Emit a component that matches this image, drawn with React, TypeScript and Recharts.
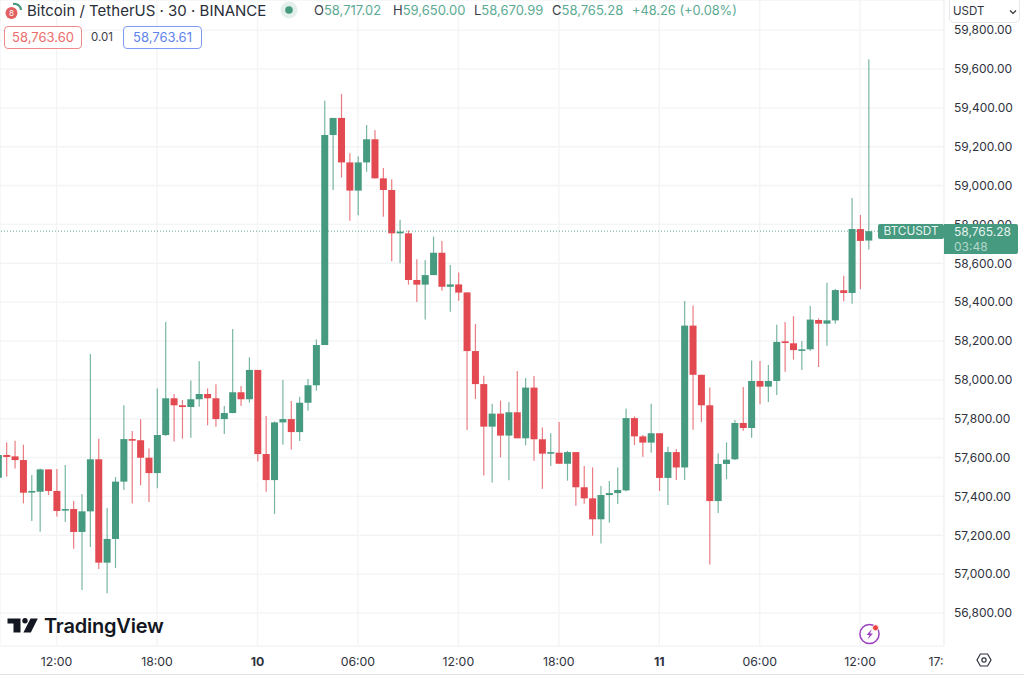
import React from "react";
import { ComposedChart, Bar, XAxis, YAxis, CartesianGrid, ReferenceLine } from "recharts";

const opens = [57496,57613,57606,57587,57424,57424,57539,57428,57327,57335,57217,57323,57591,57059,57181,57476,57695,57689,57599,57520,57716,57905,57869,57860,57900,57927,57905,57798,57829,57936,57900,58051,57618,57484,57781,57798,57731,57882,57972,58179,59260,59348,59119,58974,59119,59238,59037,58977,58754,58754,58514,58490,58539,58654,58479,58491,58450,58148,57978,57759,57826,57713,57833,57699,57960,57694,57625,57625,57568,57628,57447,57390,57282,57407,57417,57431,57803,57709,57677,57725,57495,57628,57549,58279,58026,57869,57376,57567,57591,57778,57752,57994,57965,57994,58198,58188,58153,58157,58308,58289,58306,58461,58447,58776,58717];
const highs = [57655,57677,57687,57666,57510,57544,57539,57541,57562,57376,57412,58133,57697,57340,57500,57869,57737,57797,57647,57956,58298,57927,57896,57997,58095,57956,57977,57865,58262,57968,58116,58051,57814,57786,57999,57891,57913,58004,58208,59437,59348,59471,59166,59149,59312,59286,59090,59032,58824,58769,58620,58617,58737,58715,58591,58552,58450,58287,58021,57877,57893,57884,58045,58009,58020,57755,57725,57783,57635,57628,57556,57549,57453,57479,57549,57853,57812,57716,57877,57725,57656,57644,58406,58383,58026,57960,57622,57678,57793,57963,58099,58097,58076,58284,58298,58327,58200,58380,58316,58500,58467,58536,58936,58848,59650];
const lows = [57455,57502,57544,57364,57273,57218,57407,57296,57268,57131,56918,57140,57026,56901,57031,57433,57363,57457,57371,57442,57711,57682,57697,57702,57862,57766,57759,57721,57828,57865,57882,57579,57424,57309,57666,57642,57685,57841,57944,58179,58977,59042,58819,58847,59071,59037,58840,58610,58600,58490,58401,58311,58539,58459,58351,58407,57742,57901,57508,57472,57601,57483,57699,57663,57584,57440,57556,57568,57481,57352,57362,57198,57157,57265,57361,57426,57664,57604,57625,57428,57356,57484,57484,57743,57783,57050,57314,57488,57587,57738,57702,57874,57886,57922,58042,58104,58051,58150,58066,58176,58289,58404,58392,58467,58671];
const closes = [57613,57603,57587,57419,57428,57539,57428,57325,57335,57217,57323,57591,57059,57181,57476,57695,57689,57599,57520,57716,57905,57869,57860,57900,57927,57905,57798,57829,57936,57900,58051,57618,57484,57781,57798,57731,57882,57972,58179,59260,59348,59119,58974,59119,59238,59037,58977,58754,58763,58514,58490,58539,58654,58479,58491,58449,58148,57978,57759,57826,57713,57833,57699,57960,57694,57620,57628,57568,57628,57447,57390,57282,57407,57417,57433,57803,57709,57677,57725,57495,57628,57549,58279,58026,57869,57376,57567,57589,57778,57752,57994,57965,57994,58195,58193,58153,58157,58310,58289,58306,58462,58447,58776,58715,58765];

const priceTicks = [56800,57000,57200,57400,57600,57800,58000,58200,58400,58600,58800,59000,59200,59400,59600,59800];
const timeTickIndex = [7,19,31,43,55,67,79,91,103,113];
const timeTickLabels = ["12:00","18:00","10","06:00","12:00","18:00","11","06:00","12:00","17:00"];
const boldLabels = ["10","11"];
const symbolTitle = "Bitcoin / TetherUS · 30 · BINANCE";
const ohlcLabels = ["O","H","L","C"];
const ohlcValues = ["58,717.02","59,650.00","58,670.99","58,765.28"];
const ohlcLeft = [314,393,474,552];
const lastPrice = 58765.28;

const candles = opens.map((open, i) => ({
  i, open, close: closes[i], high: highs[i], low: lows[i], range: [lows[i], highs[i]],
}));

const GREEN = "#459A80";
const RED = "#E34951";
const FONT = "Inter, 'Liberation Sans', sans-serif";

function Candle(props: any) {
  const { x, y, width, height, payload } = props;
  const { open, close, high, low } = payload;
  const up = close >= open;
  const color = up ? GREEN : RED;
  const ppu = height / (high - low);
  const top = y + (high - Math.max(open, close)) * ppu;
  const h = Math.max(Math.abs(open - close) * ppu, 1.6);
  const cx = x + width / 2;
  return (
    <g>
      <line x1={cx} x2={cx} y1={y} y2={y + height} stroke={color} strokeWidth={1.2} strokeOpacity={0.72} />
      <rect x={x} y={top} width={width} height={h} fill={color} />
    </g>
  );
}

function TimeTick(props: any) {
  const { x, y, index } = props;
  const label = timeTickLabels[index];
  return (
    <g>
      <defs>
        <clipPath id={"tt" + index}><rect x={0} y={640} width={944} height={35} /></clipPath>
      </defs>
      <text x={x} y={y} textAnchor="middle" dominantBaseline="central" clipPath={`url(#tt${index})`}
        fontFamily={FONT} fontSize={12.3} fill="#2f3340"
        fontWeight={boldLabels.includes(label) ? 700 : 400}>{label}</text>
    </g>
  );
}

const abs = (left: number, top: number, extra: React.CSSProperties = {}): React.CSSProperties => ({
  position: "absolute", left, top, whiteSpace: "nowrap", fontFamily: FONT, ...extra,
});

export default function App() {
  return (
    <div style={{ position: "absolute", left: 0, top: 0, width: 1024, height: 675, background: "#fff", overflow: "hidden" }}>
      <ComposedChart width={1024} height={675} data={candles} margin={{ top: 0, right: 0, bottom: 0, left: 0 }}>
        <CartesianGrid stroke="#f3f4f6" strokeWidth={1.4} />
        <XAxis dataKey="i" type="number" domain={[0.239, 113.02]} allowDataOverflow ticks={timeTickIndex} interval={0}
          height={29} axisLine={false} tickLine={false} tick={<TimeTick />} tickMargin={9} />
        <YAxis orientation="right" type="number" domain={[56630, 59955]} allowDataOverflow ticks={priceTicks} interval={0} width={80}
          axisLine={false} tickLine={false} tickSize={0} tickMargin={10}
          tick={{ fontFamily: FONT, fontSize: 12, fill: "#2f3340" }}
          tickFormatter={(v: number) => v.toLocaleString("en-US", { minimumFractionDigits: 2, maximumFractionDigits: 2 })} />
        <ReferenceLine y={lastPrice} stroke={GREEN} strokeDasharray="1 2" strokeOpacity={0.85} />
        <Bar dataKey="range" barSize={7} shape={<Candle />} isAnimationActive={false} />
      </ComposedChart>

      {/* bottom edge */}
      <div style={{ position: "absolute", left: 0, top: 674, width: 1024, height: 1, background: "#e2e3e6" }} />

      {/* symbol icon */}
      <svg style={{ position: "absolute", left: 4, top: 1 }} width={20} height={20}>
        <path d="M9 3 A6.5 6.5 0 0 1 17 9" fill="none" stroke="#459A80" strokeWidth={2.2} />
        <circle cx={7.5} cy={12} r={6} fill="#E2605F" />
        <text x={7.5} y={15} textAnchor="middle" fontSize={8} fill="#fff" fontFamily={FONT}>8</text>
      </svg>
      <div style={abs(27, 1, { fontSize: 15, lineHeight: "19px", color: "#2a2e39" })}>{symbolTitle}</div>
      <svg style={{ position: "absolute", left: 280, top: 1 }} width={18} height={18}>
        <circle cx={9} cy={9} r={8.5} fill="#e3efeb" />
        <circle cx={9} cy={9} r={3.8} fill="#459A80" />
      </svg>

      {ohlcLabels.map((l, i) => (
        <div key={l} style={abs(ohlcLeft[i], 2, { fontSize: 13, lineHeight: "17px", color: "#3a3e49" })}>
          {l}<span style={{ color: "#5BAA93" }}>{ohlcValues[i]}</span>
        </div>
      ))}
      <div style={abs(632, 2, { fontSize: 12.8, lineHeight: "17px", color: "#5BAA93" })}>+48.26 (+0.08%)</div>

      {/* bid / spread / ask */}
      <div style={abs(4, 26, { width: 78, height: 23, boxSizing: "border-box", border: "1px solid #ee8b8b", borderRadius: 4, color: "#ec6b6b", fontSize: 13, lineHeight: "21px", textAlign: "center", background: "#fff" })}>58,763.60</div>
      <div style={abs(91, 29, { fontSize: 11.5, lineHeight: "17px", color: "#3a3e49" })}>0.01</div>
      <div style={abs(123, 26, { width: 79, height: 23, boxSizing: "border-box", border: "1px solid #7f9cf5", borderRadius: 4, color: "#5f83ee", fontSize: 13, lineHeight: "21px", textAlign: "center", background: "#fff" })}>58,763.61</div>

      {/* currency selector */}
      <div style={abs(949, -3, { width: 71, height: 26, boxSizing: "border-box", border: "1px solid #e6e7ea", borderRadius: 5, background: "#fff", fontSize: 11.5, lineHeight: "27px", paddingLeft: 3, color: "#2f3340" })}>USDT</div>
      <svg style={{ position: "absolute", left: 1009, top: 9 }} width={8} height={6}>
        <path d="M1 1.5 L4 4.5 L7 1.5" fill="none" stroke="#333" strokeWidth={1.2} />
      </svg>

      {/* last price tags */}
      <div style={abs(878, 224, { width: 66, height: 15, background: GREEN, borderRadius: 2, color: "#e8f3ef", fontSize: 11.8, lineHeight: "15px", textAlign: "center" })}>BTCUSDT</div>
      <div style={abs(944, 224, { width: 74, height: 30, background: GREEN, borderRadius: "0 2px 2px 0", color: "#e8f3ef", fontSize: 12, lineHeight: "15px", paddingLeft: 10, boxSizing: "border-box" })}>
        58,765.28<br /><span style={{ color: "#b5d8cc" }}>03:48</span>
      </div>

      {/* TradingView mark */}
      <svg style={{ position: "absolute", left: 0, top: 610 }} width={44} height={30}>
        <path d="M7.5 8.5 H20.5 V22.5 H13.5 V13.5 H7.5 Z" fill="#131722" />
        <circle cx={25} cy={10.8} r={2.7} fill="#131722" />
        <path d="M30.5 8.5 H37.8 L30.8 22.5 H23.4 Z" fill="#131722" />
      </svg>
      <div style={abs(44, 613, { fontSize: 20, lineHeight: "26px", fontWeight: 600, color: "#131722", letterSpacing: -0.2 })}>TradingView</div>

      {/* lightning badge */}
      <svg style={{ position: "absolute", left: 857, top: 621 }} width={26} height={26}>
        <circle cx={12.5} cy={13} r={9.6} fill="none" stroke="#9c3fc0" strokeWidth={1.5} />
        <path d="M15 8 L9.5 14 H12.5 L10.5 18.5 L16 12.5 H13 Z" fill="#9c3fc0" />
        <circle cx={18.5} cy={6.8} r={3} fill="#ee4040" stroke="#fff" strokeWidth={0.8} />
      </svg>

      {/* settings hexagon */}
      <svg style={{ position: "absolute", left: 976, top: 652 }} width={16} height={16}>
        <path d="M4.4 2 H11.6 L15 8 L11.6 14 H4.4 L1 8 Z" fill="none" stroke="#2f3340" strokeWidth={1.2} />
        <circle cx={8} cy={8} r={2.1} fill="none" stroke="#2f3340" strokeWidth={1.2} />
      </svg>
    </div>
  );
}
